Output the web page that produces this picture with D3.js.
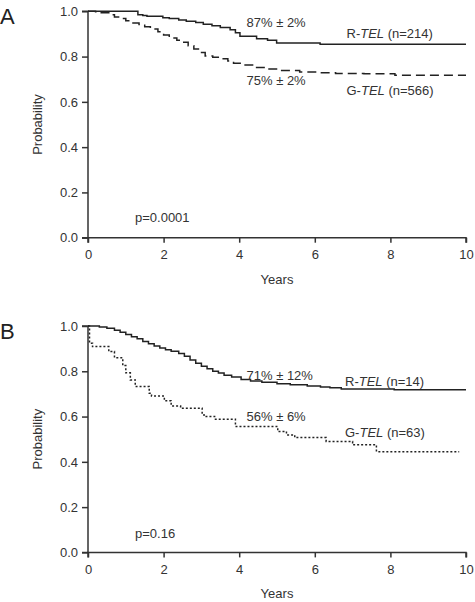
<!DOCTYPE html>
<html><head><meta charset="utf-8">
<script src="https://cdn.jsdelivr.net/npm/d3@7"></script>
<style>
html,body{margin:0;padding:0;background:#fff;}
text{font-family:"Liberation Sans",Arial,sans-serif;fill:#333;}
</style></head><body>
<script>
// ---- data ----
const xTicks = [0, 2, 4, 6, 8, 10];
const yTicks = [0, 0.2, 0.4, 0.6, 0.8, 1.0];

// Panel A: R-TEL (solid)
const aRTime = [0,1.32,1.45,1.56,1.98,2.15,2.4,2.6,2.85,3.05,3.28,3.5,3.76,3.9,4.02,4.46,4.75,4.99,6.14,10];
const aRSurv = [1,0.985,0.982,0.978,0.972,0.968,0.962,0.956,0.95,0.943,0.936,0.928,0.918,0.905,0.89,0.879,0.872,0.86,0.854,0.854];
// Panel A: G-TEL (dashed)
const aGTime = [0,0.2,0.35,0.55,0.7,0.85,1.0,1.15,1.35,1.5,1.65,1.85,2.0,2.15,2.35,2.5,2.65,2.8,2.95,3.1,3.3,3.5,3.7,3.85,4.1,4.4,4.7,5.05,5.6,6.1,6.55,7.3,8.12,10];
const aGSurv = [1,0.998,0.994,0.985,0.975,0.968,0.958,0.948,0.942,0.932,0.922,0.91,0.895,0.882,0.872,0.863,0.848,0.833,0.818,0.803,0.797,0.79,0.78,0.77,0.763,0.752,0.745,0.739,0.732,0.729,0.725,0.724,0.717,0.717];
// Panel B: R-TEL (solid)
const bRTime = [0,0.3,0.5,0.7,0.85,1.0,1.15,1.3,1.45,1.6,1.75,1.9,2.05,2.2,2.4,2.55,2.7,2.85,3.0,3.15,3.3,3.45,3.6,3.8,4.05,4.3,4.6,5.0,5.35,5.8,6.15,6.4,6.7,8.1,10];
const bRSurv = [1,0.996,0.99,0.981,0.972,0.962,0.952,0.944,0.932,0.922,0.912,0.903,0.895,0.888,0.879,0.866,0.85,0.836,0.822,0.811,0.8,0.792,0.783,0.775,0.764,0.757,0.751,0.745,0.74,0.735,0.731,0.727,0.722,0.718,0.718];
// Panel B: G-TEL (dotted)
const bGTime = [0,0.04,0.12,0.55,0.7,0.92,1.0,1.12,1.25,1.62,1.68,2.02,2.2,2.45,3.02,3.1,3.35,3.9,5.02,5.25,5.47,6.3,7.0,7.63,9.82];
const bGSurv = [1,0.924,0.909,0.887,0.86,0.825,0.793,0.762,0.733,0.703,0.691,0.67,0.647,0.637,0.607,0.6,0.588,0.556,0.534,0.519,0.507,0.49,0.475,0.445,0.445];

const panels = [
  {letter:"A", top:11.3, series:[
      {t:aRTime, s:aRSurv, dash:null},
      {t:aGTime, s:aGSurv, dash:"9,5"}],
   labels:[
      {x:246.5, y:26.5, parts:[["87% \u00b1 2%",false]]},
      {x:346.5, y:37.5, parts:[["R-",false],["TEL",true],[" (n=214)",false]]},
      {x:246.5, y:85, parts:[["75% \u00b1 2%",false]]},
      {x:346.5, y:94.5, parts:[["G-",false],["TEL",true],[" (n=566)",false]]},
      {x:135, y:221.5, parts:[["p=0.0001",false]]}]},
  {letter:"B", top:326, series:[
      {t:bRTime, s:bRSurv, dash:null},
      {t:bGTime, s:bGSurv, dash:"2,2"}],
   labels:[
      {x:246.5, y:380, parts:[["71% \u00b1 12%",false]]},
      {x:345, y:385.5, parts:[["R-",false],["TEL",true],[" (n=14)",false]]},
      {x:246.5, y:421, parts:[["56% \u00b1 6%",false]]},
      {x:345, y:437, parts:[["G-",false],["TEL",true],[" (n=63)",false]]},
      {x:135, y:537.5, parts:[["p=0.16",false]]}]}
];

const W = 475, H = 602;
const left = 88, right = 466, plotH = 226.4;
const svg = d3.select("body").append("svg").attr("width", W).attr("height", H);

const x = d3.scaleLinear().domain([0, 10]).range([left, right]);

panels.forEach(p => {
  const y = d3.scaleLinear().domain([0, 1]).range([p.top + plotH, p.top]);
  const g = svg.append("g");

  // letter
  g.append("text").attr("x", 0).attr("y", p.top + 12.5)
    .style("font-size", "22px").style("fill", "#222").text(p.letter);

  // axes
  const yAxis = d3.axisLeft(y).tickValues(yTicks).tickFormat(d3.format(".1f")).tickSize(6).tickPadding(4);
  const gy = g.append("g").attr("transform", `translate(${left},0)`).call(yAxis);
  const xAxis = d3.axisBottom(x).tickValues(xTicks).tickFormat(d3.format("d")).tickSize(5).tickPadding(7);
  const gx = g.append("g").attr("transform", `translate(0,${p.top + plotH})`).call(xAxis);
  [gy, gx].forEach(a => {
    a.select(".domain").attr("stroke", "#333").attr("stroke-width", 1.5);
    a.selectAll(".tick line").attr("stroke", "#333").attr("stroke-width", 1.5);
    a.selectAll(".tick text").style("font-size", "13px").style("fill", "#333")
      .style("font-family", '"Liberation Sans",Arial,sans-serif');
  });
  gy.select(".domain").attr("d", `M-6,${y(1)}H0V${y(0)}H-6`);
  gx.select(".domain").attr("d", `M${left},5V0H${right}V5`);

  g.append("text").attr("x", x(5)).attr("y", p.top + plotH + 46)
    .attr("text-anchor", "middle").style("font-size", "13px").text("Years");
  g.append("text")
    .attr("transform", `translate(41.5,${p.top + plotH / 2}) rotate(-90)`)
    .attr("text-anchor", "middle").style("font-size", "13px").text("Probability");

  // curves
  p.series.forEach(sr => {
    const pts = sr.t.map((t, i) => [t, sr.s[i]]);
    const line = d3.line().x(d => x(d[0])).y(d => y(d[1])).curve(d3.curveStepAfter);
    g.append("path").attr("d", line(pts)).attr("fill", "none")
      .attr("stroke", "#222").attr("stroke-width", 1.5)
      .attr("stroke-dasharray", sr.dash);
  });

  // labels
  p.labels.forEach(l => {
    const t = g.append("text").attr("x", l.x).attr("y", l.y).style("font-size", "13px");
    l.parts.forEach(([txt, it]) => {
      t.append("tspan").style("font-style", it ? "italic" : "normal").text(txt);
    });
  });
});
</script>
</body></html>
